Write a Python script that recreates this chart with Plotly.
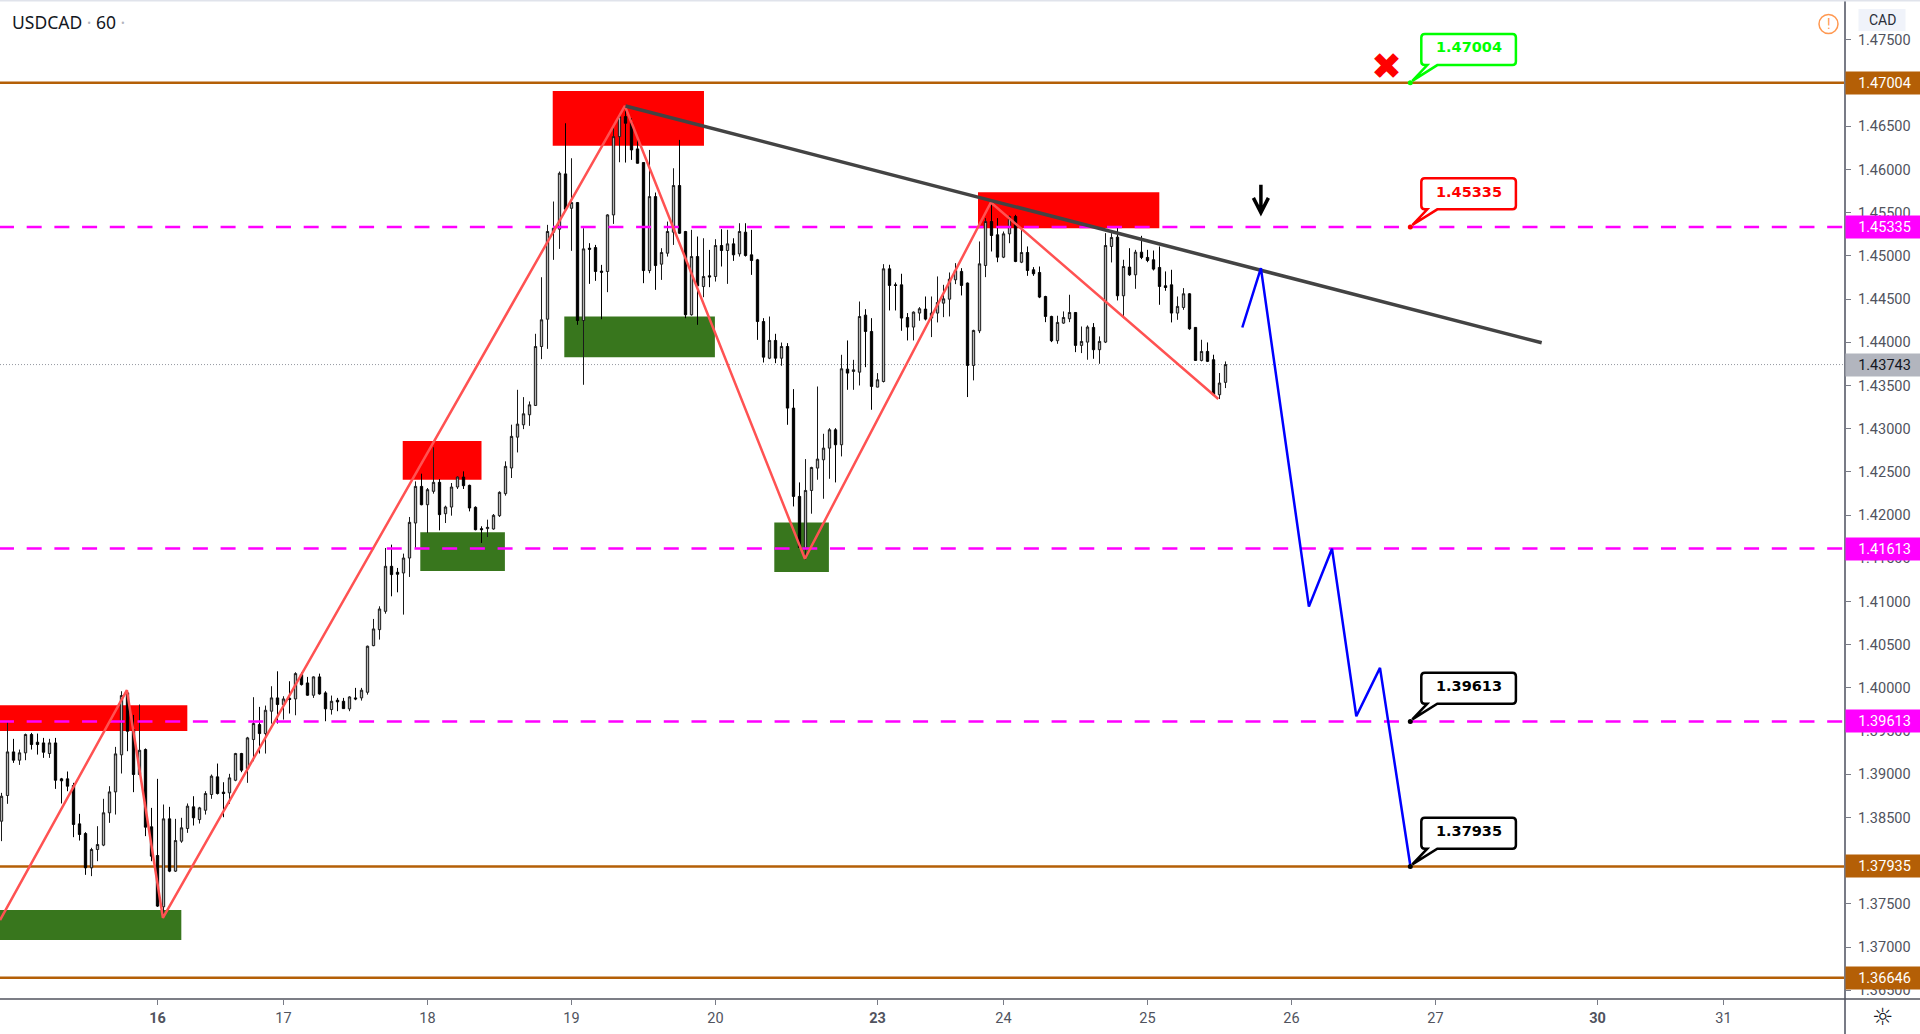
import plotly.graph_objects as go

symbol_text = "USDCAD"
interval_text = "60"
currency_text = "CAD"

# hourly candles: body top, body bottom, wick high, wick low, direction (U = white, D = black)
direction = list(
    "UUDUUDDDUD" "DDDDDUUUUU" "UDDUDDDUDU" "UUDUUUDDUU" "DUUDUUDUDU"
    "DDUDDUDDUD" "UUUUUDDUUU" "DUUDUUUDDD" "DUUUUUUUUU" "UUUUDUDUDD"
    "DUUUDDDDUD" "UUUDDUDUDU" "DUDUDDDDUD" "UDDDUUUUUD" "UDUUDDUUDD"
    "DDUUDUUUUU" "DDUUUDDUUD" "UDDDDDUUUD" "UUDUUUDUDU" "DDDDDDUUDD" "UDDUU"
)
body_top = [
1.38747,1.39260,1.39260,1.39249,1.39461,1.39461,1.39372,1.39364,1.39364,1.39364,
1.38948,1.38948,1.38871,1.38427,1.38315,1.38130,1.38188,1.38555,1.38797,1.39237,
1.39912,1.39943,1.39519,1.39279,1.39287,1.38393,1.38061,1.38485,1.38485,1.38234,
1.38381,1.38632,1.38624,1.38612,1.38778,1.38979,1.38971,1.38794,1.38959,1.39241,
1.39241,1.39422,1.39588,1.39576,1.39742,1.39885,1.39885,1.39873,1.39881,1.40166,
1.40155,1.40058,1.40128,1.40128,1.39943,1.39846,1.39858,1.39846,1.39896,1.39885,
1.39974,1.40483,1.40683,1.40914,1.41408,1.41408,1.41339,1.41504,1.41917,1.42333,
1.42333,1.42295,1.42380,1.42380,1.42094,1.42326,1.42441,1.42441,1.42345,1.42091,
1.41844,1.41859,1.41998,1.42264,1.42565,1.42912,1.43054,1.43173,1.43277,1.43952,
1.44261,1.45283,1.45321,1.45957,1.45950,1.45618,1.45618,1.45082,1.45090,1.45097,
1.44824,1.45475,1.46381,1.46613,1.46613,1.46543,1.46239,1.46081,1.45687,1.45687,
1.45040,1.45283,1.45815,1.45815,1.45283,1.44993,1.44993,1.44762,1.44770,1.45121,
1.45121,1.45140,1.45140,1.45283,1.45275,1.45013,1.44955,1.44241,1.44022,1.44022,
1.43952,1.43952,1.43239,1.42217,1.42286,1.42552,1.42649,1.42776,1.42988,1.42988,
1.43694,1.43690,1.43682,1.44299,1.44315,1.44126,1.43567,1.44851,1.44851,1.44666,
1.44666,1.44288,1.44350,1.44389,1.44385,1.44339,1.44462,1.44504,1.44732,1.44832,
1.44821,1.44686,1.44138,1.44909,1.45399,1.45399,1.45245,1.45256,1.45457,1.45457,
1.45040,1.45040,1.44840,1.44809,1.44531,1.44300,1.44231,1.44288,1.44346,1.44346,
1.44011,1.44177,1.44173,1.44011,1.45121,1.45214,1.45218,1.44878,1.44871,1.45044,
1.45044,1.44983,1.44956,1.44867,1.44655,1.44666,1.44416,1.44562,1.44562,1.44173,
1.43895,1.43895,1.43799,1.43529,1.43743]
body_bottom = [
1.38458,1.38755,1.39164,1.39164,1.39249,1.39345,1.39345,1.39256,1.39241,1.38932,
1.38925,1.38863,1.38420,1.38304,1.37918,1.37918,1.38130,1.38181,1.38555,1.38797,
1.39226,1.39499,1.38998,1.38998,1.38389,1.38053,1.37475,1.37467,1.37880,1.37880,
1.38227,1.38373,1.38497,1.38477,1.38585,1.38767,1.38778,1.38778,1.38786,1.38932,
1.39048,1.39064,1.39403,1.39472,1.39472,1.39731,1.39808,1.39808,1.39866,1.39873,
1.40039,1.39916,1.39916,1.39931,1.39758,1.39750,1.39839,1.39761,1.39758,1.39873,
1.39885,1.39950,1.40490,1.40675,1.40887,1.41312,1.41316,1.41331,1.41504,1.41909,
1.42121,1.42121,1.42276,1.42006,1.42017,1.42094,1.42326,1.42341,1.42083,1.41832,
1.41832,1.41844,1.41840,1.41994,1.42249,1.42546,1.42903,1.43046,1.43162,1.43270,
1.43952,1.44268,1.45275,1.45310,1.45541,1.45552,1.44253,1.44253,1.45078,1.44820,
1.44812,1.44820,1.45475,1.46381,1.46536,1.46227,1.46073,1.44831,1.44831,1.44889,
1.44905,1.45032,1.45275,1.45263,1.44319,1.44319,1.44654,1.44646,1.44758,1.44762,
1.45063,1.45063,1.45013,1.45024,1.45005,1.44947,1.44241,1.43829,1.43817,1.43817,
1.43817,1.43239,1.42217,1.41627,1.41619,1.42286,1.42545,1.42641,1.42776,1.42815,
1.42815,1.43644,1.43663,1.43655,1.44126,1.43490,1.43482,1.43547,1.44659,1.44659,
1.44281,1.44177,1.44177,1.44339,1.44269,1.44281,1.44339,1.44454,1.44500,1.44724,
1.44659,1.43733,1.43733,1.44134,1.44890,1.45237,1.44986,1.44986,1.45256,1.44936,
1.44928,1.44832,1.44794,1.44524,1.44300,1.44019,1.44019,1.44223,1.44273,1.43965,
1.43965,1.44003,1.43915,1.43915,1.44003,1.45110,1.44539,1.44539,1.44782,1.44782,
1.44983,1.44948,1.44848,1.44647,1.44635,1.44339,1.44339,1.44404,1.44157,1.43791,
1.43791,1.43780,1.43394,1.43394,1.43537]
high = [
1.38786,1.39615,1.39411,1.39287,1.39472,1.39480,1.39472,1.39422,1.39411,1.39422,
1.38959,1.39033,1.38902,1.38543,1.38331,1.38150,1.38400,1.38717,1.38863,1.39318,
1.39962,1.39962,1.39688,1.39808,1.39300,1.38612,1.38948,1.38651,1.38624,1.38485,
1.38497,1.38663,1.38747,1.38624,1.38805,1.38998,1.39125,1.38909,1.39006,1.39249,
1.39249,1.39434,1.39893,1.39781,1.39796,1.40020,1.40193,1.39904,1.40078,1.40182,
1.40182,1.40128,1.40135,1.40166,1.39962,1.39912,1.39885,1.39885,1.39904,1.40001,
1.40001,1.40490,1.40799,1.40945,1.41620,1.41659,1.41389,1.41555,1.41979,1.42391,
1.42480,1.42314,1.42785,1.42418,1.42110,1.42372,1.42449,1.42507,1.42353,1.42102,
1.41871,1.41948,1.42013,1.42276,1.42623,1.43047,1.43451,1.43366,1.43316,1.44099,
1.44754,1.45360,1.45630,1.45977,1.46536,1.46131,1.45625,1.45321,1.45148,1.45128,
1.44897,1.45483,1.46516,1.46621,1.46682,1.46594,1.46381,1.46085,1.46227,1.45734,
1.45090,1.45398,1.46015,1.46343,1.45290,1.45302,1.45225,1.45205,1.45070,1.45194,
1.45310,1.45302,1.45205,1.45379,1.45379,1.45302,1.44966,1.44280,1.44299,1.44099,
1.43998,1.43991,1.43459,1.42379,1.42649,1.42560,1.43489,1.42942,1.43007,1.43007,
1.43856,1.44022,1.43798,1.44473,1.44384,1.44280,1.43644,1.44905,1.44898,1.44693,
1.44794,1.44339,1.44358,1.44408,1.44531,1.44531,1.44763,1.44666,1.44809,1.44917,
1.44859,1.44693,1.44146,1.45168,1.45438,1.45599,1.45438,1.45283,1.45468,1.45476,
1.45322,1.45110,1.44871,1.44878,1.44539,1.44308,1.44308,1.44358,1.44551,1.44350,
1.44184,1.44196,1.44223,1.44069,1.45264,1.45264,1.45333,1.44956,1.45090,1.45071,
1.45233,1.45071,1.45063,1.45110,1.44821,1.44840,1.44531,1.44628,1.44570,1.44177,
1.44030,1.43999,1.43857,1.43645,1.43779]
low = [
1.38227,1.38659,1.39133,1.39110,1.39164,1.39287,1.39229,1.39191,1.39191,1.38832,
1.38663,1.38805,1.38273,1.38234,1.37837,1.37822,1.37995,1.38169,1.38439,1.38535,
1.39010,1.39268,1.38794,1.38986,1.38285,1.37995,1.37465,1.37340,1.37868,1.37870,
1.38208,1.38323,1.38408,1.38431,1.38535,1.38717,1.38767,1.38504,1.38659,1.38921,
1.39025,1.38902,1.39152,1.39241,1.39241,1.39588,1.39588,1.39634,1.39704,1.39684,
1.40028,1.39910,1.39885,1.39923,1.39615,1.39692,1.39731,1.39758,1.39731,1.39858,
1.39854,1.39923,1.40483,1.40560,1.40860,1.41061,1.41107,1.40849,1.41285,1.41620,
1.42114,1.41794,1.42249,1.41824,1.41909,1.41994,1.42303,1.42303,1.42044,1.41824,
1.41678,1.41747,1.41832,1.41979,1.42226,1.42430,1.42726,1.42996,1.43034,1.43266,
1.43806,1.43925,1.44955,1.45082,1.45530,1.45059,1.44203,1.43509,1.44677,1.44712,
1.44268,1.44581,1.45371,1.46085,1.46081,1.46112,1.46070,1.44685,1.44800,1.44608,
1.44723,1.44993,1.45128,1.45255,1.44280,1.44310,1.44203,1.44523,1.44639,1.44704,
1.44878,1.44677,1.44943,1.44993,1.44993,1.44781,1.44029,1.43767,1.43806,1.43759,
1.43729,1.43046,1.42101,1.41620,1.41484,1.42017,1.42410,1.42190,1.42421,1.42379,
1.42680,1.43451,1.43451,1.43501,1.43713,1.43220,1.43480,1.43536,1.44369,1.44369,
1.44134,1.44022,1.44022,1.44250,1.44254,1.44061,1.44231,1.44292,1.44300,1.44674,
1.44543,1.43367,1.43560,1.44107,1.44755,1.45052,1.44928,1.44975,1.45148,1.44928,
1.44917,1.44770,1.44770,1.44512,1.44234,1.44003,1.43984,1.44215,1.44234,1.43887,
1.43876,1.43799,1.43810,1.43752,1.43992,1.44925,1.44485,1.44281,1.44770,1.44620,
1.44963,1.44928,1.44832,1.44435,1.44597,1.44231,1.44261,1.44377,1.44146,1.43785,
1.43780,1.43772,1.43386,1.43344,1.43471]

bar_index = list(range(len(direction)))
opens = [b if d == "U" else t for t, b, d in zip(body_top, body_bottom, direction)]
closes = [t if d == "U" else b for t, b, d in zip(body_top, body_bottom, direction)]

# axis ticks
date_tick_bars = [26, 47, 71, 95, 119, 146, 167, 191, 215, 239, 266, 287]
date_tick_text = ["<b>16</b>", "17", "18", "19", "20", "<b>23</b>", "24", "25", "26", "27", "<b>30</b>", "31"]
price_ticks = [1.365, 1.37, 1.375, 1.38, 1.385, 1.39, 1.395, 1.40, 1.405, 1.41, 1.415, 1.42, 1.425,
               1.43, 1.435, 1.44, 1.445, 1.45, 1.455, 1.46, 1.465, 1.47, 1.475]

# horizontal levels
brown_levels = [1.47004, 1.37935, 1.36646]
magenta_levels = [1.45335, 1.41613, 1.39613]
last_price = 1.43743

# supply / demand zones: bar0, bar1, price0, price1
red_zones = [(-1, 30.97, 1.39800, 1.39503), (66.87, 80.0, 1.42858, 1.42411),
             (91.87, 117.08, 1.46910, 1.46277), (162.75, 192.97, 1.45738, 1.45322)]
green_zones = [(-1, 29.97, 1.37429, 1.37082), (69.8, 83.9, 1.41801, 1.41354),
               (93.8, 118.9, 1.44299, 1.43829), (128.8, 137.9, 1.41916, 1.41342)]

# drawn paths
zigzag_bars = [-0.25, 20.9, 26.9, 103.9, 133.9, 164.9, 202.8]
zigzag_prices = [1.37313, 1.39974, 1.37340, 1.46736, 1.41496, 1.45619, 1.43344]
trend_bars = [104.0, 256.7]
trend_prices = [1.46736, 1.43995]
forecast_bars = [206.8, 209.9, 217.9, 221.75, 225.8, 229.75, 234.8]
forecast_prices = [1.44172, 1.44859, 1.40941, 1.41612, 1.39672, 1.40232, 1.37945]

# callouts: text, colour, anchor price
callout_bar = 234.8
callout_texts = ["1.47004", "1.45335", "1.39613", "1.37935"]
callout_prices = [1.47004, 1.45335, 1.39613, 1.37935]
callout_colors = ["#00ff00", "#ff0000", "#000000", "#000000"]

cross_bar, cross_price = 230.8, 1.47193
arrow_bar, arrow_top, arrow_tip, arrow_head = 209.9, 1.45823, 1.45502, 1.45672

X_RANGE = [-0.25, 307.25]
Y_RANGE = [1.36400, 1.47951]
PX_PER_BAR = 6.0
PX_PER_PRICE = 8640.0
PLOT_W, PLOT_H = 1845, 998
TEXT = "#50535e"

fig = go.Figure()

fig.add_trace(go.Candlestick(
    x=bar_index, open=opens, high=high, low=low, close=closes,
    increasing=dict(line=dict(color="#1a1a1a", width=1), fillcolor="#b4b4b4"),
    decreasing=dict(line=dict(color="#000000", width=1), fillcolor="#000000"),
    whiskerwidth=0, hoverinfo="skip", showlegend=False))

hx = [-0.42, 308]
for lv in magenta_levels:
    fig.add_trace(go.Scatter(x=hx, y=[lv, lv], mode="lines", hoverinfo="skip", showlegend=False,
                             line=dict(color="#ff00ff", width=2.5, dash="15px,12.7px")))

fig.add_trace(go.Scatter(x=zigzag_bars, y=zigzag_prices, mode="lines", hoverinfo="skip", showlegend=False,
                         line=dict(color="#ff5252", width=2.5)))
fig.add_trace(go.Scatter(x=trend_bars, y=trend_prices, mode="lines", hoverinfo="skip", showlegend=False,
                         line=dict(color="#434343", width=3.5)))
fig.add_trace(go.Scatter(x=forecast_bars, y=forecast_prices, mode="lines", hoverinfo="skip", showlegend=False,
                         line=dict(color="#0000ff", width=2.5)))

shapes = []
for x0, x1, y0, y1 in red_zones:
    shapes.append(dict(type="rect", x0=x0, x1=x1, y0=y0, y1=y1, layer="below",
                       fillcolor="#ff0000", line=dict(width=0)))
for x0, x1, y0, y1 in green_zones:
    shapes.append(dict(type="rect", x0=x0, x1=x1, y0=y0, y1=y1, layer="below",
                       fillcolor="#38761d", line=dict(width=0)))
for lv in brown_levels:
    shapes.append(dict(type="line", xref="paper", x0=0, x1=1, y0=lv, y1=lv, layer="below",
                       line=dict(color="#b45f06", width=2.5)))
shapes.append(dict(type="line", xref="paper", x0=0, x1=1, y0=last_price, y1=last_price, layer="below",
                   line=dict(color="#9598a1", width=1, dash="1px,2px")))

annotations = []


def paper_x(px):
    return px / PLOT_W


def paper_y(py):
    return 1 - (py - 1) / PLOT_H


# callouts with tail
def callout_path(bar, price):
    def pt(dx, dy):
        return f"{bar + dx / PX_PER_BAR:.4f},{price - dy / PX_PER_PRICE:.6f}"
    L, R, T, B, r = 11, 105.6, -48.7, -17.7, 3.5
    return ("M" + pt(2, -2) + " L" + pt(27, B) + " L" + pt(R - r, B) + " Q" + pt(R, B) + " " + pt(R, B - r)
            + " L" + pt(R, T + r) + " Q" + pt(R, T) + " " + pt(R - r, T)
            + " L" + pt(L + r, T) + " Q" + pt(L, T) + " " + pt(L, T + r)
            + " L" + pt(L, B - r) + " Q" + pt(L, B) + " " + pt(L + r, B)
            + " L" + pt(17, B) + " Z")


for text, price, color in zip(callout_texts, callout_prices, callout_colors):
    shapes.append(dict(type="path", path=callout_path(callout_bar, price), fillcolor="#ffffff",
                       line=dict(color=color, width=2.5)))
    annotations.append(dict(x=callout_bar, y=price, text=text, showarrow=False, xshift=58.3, yshift=35.5,
                            font=dict(family="DejaVu Sans", size=14.5, color=color, weight="bold")))
fig.add_trace(go.Scatter(x=[callout_bar] * 4, y=callout_prices, mode="markers", hoverinfo="skip", showlegend=False,
                         marker=dict(size=5, color=callout_colors)))

# down arrow
shapes.append(dict(type="path", line=dict(color="#000000", width=3.5),
                   path=f"M{arrow_bar},{arrow_top} L{arrow_bar},{arrow_tip} "
                        f"M{arrow_bar - 1.25},{arrow_head} L{arrow_bar},{arrow_tip} L{arrow_bar + 1.25},{arrow_head}"))

# cross
annotations.append(dict(x=cross_bar, y=cross_price, text="✖", showarrow=False,
                        font=dict(family="DejaVu Sans", size=37, color="#ff0000")))


# price badges
def badge(price, text, bg, fg):
    annotations.append(dict(xref="paper", x=1, xanchor="left", y=price, yanchor="middle", text=text,
                            showarrow=False, width=75, height=20, bgcolor=bg, borderpad=1, align="center",
                            font=dict(family="Roboto", size=14.5, color=fg)))


for lv in brown_levels:
    badge(lv, f"{lv:.5f}", "#b45f06", "#ffffff")
for lv in magenta_levels:
    badge(lv, f"{lv:.5f}", "#ff00ff", "#ffffff")
badge(last_price, f"{last_price:.5f}", "#b2b5be", "#131722")

# frame pieces
shapes.append(dict(type="line", xref="paper", yref="paper", x0=1, x1=1, y0=paper_y(1034), y1=paper_y(0),
                   line=dict(color="#787b86", width=2)))
shapes.append(dict(type="line", xref="paper", yref="paper", x0=0, x1=paper_x(1920), y0=paper_y(999), y1=paper_y(999),
                   line=dict(color="#50535e", width=1.5)))
shapes.append(dict(type="rect", xref="paper", yref="paper", x0=0, x1=paper_x(1920), y0=paper_y(1.5), y1=paper_y(0),
                   fillcolor="#e0e3eb", line=dict(width=0)))
# currency button
shapes.append(dict(type="rect", xref="paper", yref="paper", x0=paper_x(1858.5), x1=paper_x(1905.5),
                   y0=paper_y(31), y1=paper_y(9), fillcolor="#f0f3fa", line=dict(width=0)))
annotations.append(dict(xref="paper", yref="paper", x=paper_x(1882), xanchor="center", y=paper_y(20.5),
                        yanchor="middle", text=currency_text,
                        showarrow=False, font=dict(family="Roboto", size=14, color="#2a2e39")))
# warning icon
shapes.append(dict(type="circle", xref="paper", yref="paper", x0=paper_x(1819), x1=paper_x(1838),
                   y0=paper_y(33.5), y1=paper_y(14.5), line=dict(color="#ff9850", width=1.5)))
annotations.append(dict(xref="paper", yref="paper", x=paper_x(1828.5), xanchor="center", y=paper_y(24),
                        yanchor="middle", text="!",
                        showarrow=False, font=dict(family="Roboto", size=14, color="#ff9850")))
# title
annotations.append(dict(xref="paper", yref="paper", x=paper_x(10), xanchor="left", y=paper_y(22), yanchor="middle",
                        showarrow=False,
                        text=f"{symbol_text} <span style='color:#b2b5be'>·</span> {interval_text} "
                             f"<span style='color:#b2b5be'>·</span>",
                        font=dict(family="Noto Sans", size=17.5, color="#131722")))
# settings icon
annotations.append(dict(xref="paper", yref="paper", x=paper_x(1882.5), xanchor="center", y=paper_y(1017),
                        yanchor="middle", text="☼",
                        showarrow=False, font=dict(family="DejaVu Sans", size=24, color="#131722")))

fig.update_layout(
    width=1920, height=1034,
    margin=dict(l=0, r=75, t=1, b=35, pad=0),
    paper_bgcolor="#ffffff", plot_bgcolor="#ffffff",
    showlegend=False, hovermode=False, dragmode=False,
    boxgap=0.45,
    shapes=shapes, annotations=annotations,
    xaxis=dict(range=X_RANGE, rangeslider=dict(visible=False), showgrid=False, zeroline=False,
               tickmode="array", tickvals=date_tick_bars, ticktext=date_tick_text,
               ticks="outside", ticklen=5, tickcolor="#787b86", showline=False,
               ticklabelstandoff=1,
               tickfont=dict(family="Roboto", size=14.5, color=TEXT)),
    yaxis=dict(range=Y_RANGE, side="right", showgrid=False, zeroline=False,
               tickmode="array", tickvals=price_ticks, ticktext=[f"{p:.5f}" for p in price_ticks],
               ticks="outside", ticklen=5, tickcolor="#787b86", showline=False,
               ticklabelstandoff=4,
               tickfont=dict(family="Roboto", size=14.5, color=TEXT)),
)

fig.write_html("out.html", config={"displayModeBar": False},
               post_script="document.body.style.margin='0';document.documentElement.style.overflow='hidden';")
